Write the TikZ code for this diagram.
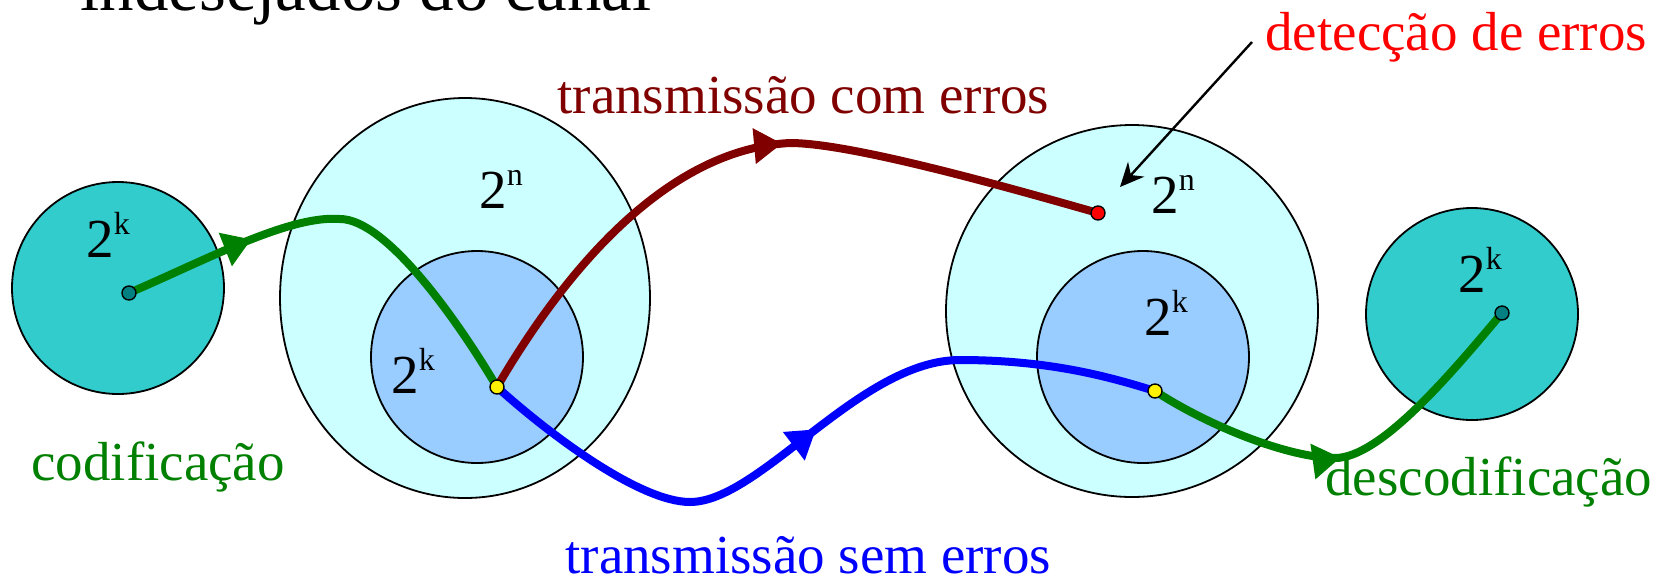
\documentclass[tikz,border=0pt]{standalone}
\usepackage{fontspec}
\setmainfont{Liberation Serif}
\usetikzlibrary{shapes.geometric,arrows.meta,decorations.markings}
\pgfdeclarelayer{front}
\pgfsetlayers{main,front}
\definecolor{tealA}{HTML}{33CCCC}
\definecolor{cyanA}{HTML}{CCFFFF}
\definecolor{blueA}{HTML}{99CCFF}
\definecolor{redD}{HTML}{800000}
\definecolor{greenD}{HTML}{008000}
\definecolor{dotTeal}{HTML}{008080}
\newcommand\twopow[1]{2\raisebox{11.5pt}{\fontsize{16}{16}\selectfont #1}}
\begin{document}
\begin{tikzpicture}[x=0.5pt,y=-0.5pt,
  region/.style={ellipse, draw=black, line width=0.9pt, inner sep=0pt},
  lbl/.style={anchor=base west, inner sep=0pt, font=\fontsize{27.5}{30}\selectfont},
  dotpt/.style={circle, draw=black, line width=0.7pt, inner sep=0pt, minimum size=7pt},
  flow/.style={line width=4pt},
  midarrow/.style={postaction={decorate}, decoration={markings, mark=at position #1 with {\arrow{Triangle[length=14pt,width=17pt]}}}},
]
\useasboundingbox (0,0) rectangle (1666,580);

% regions
\node[region, fill=tealA, minimum width=106pt, minimum height=106pt] (encL) at (118,288) {};
\node[region, fill=cyanA, minimum width=185pt, minimum height=200pt] (spaceL) at (465,298) {};
\node[region, fill=blueA, minimum width=106pt, minimum height=106pt] (codeL) at (477,357) {};
\node[region, fill=cyanA, minimum width=186pt, minimum height=186pt] (spaceR) at (1132,311) {};
\node[region, fill=blueA, minimum width=106pt, minimum height=106pt] (codeR) at (1143,357) {};
\node[region, fill=tealA, minimum width=106pt, minimum height=106pt] (encR) at (1472,314) {};

% powers
\node[lbl] (kL) at (86,257) {\twopow{k}};
\node[lbl] (nL) at (479,208) {\twopow{n}};
\node[lbl] (kLi) at (391,393) {\twopow{k}};
\node[lbl] (nR) at (1151,213) {\twopow{n}};
\node[lbl] (kRi) at (1144,335) {\twopow{k}};
\node[lbl] (kR) at (1458,292) {\twopow{k}};

% texts
\node[lbl, text=black, font=\fontsize{34.5}{36}\selectfont] (title) at (80,10) {indesejados do canal};
\node[lbl, text=redD] (tce) at (557,113) {transmissão com erros};
\node[lbl, text=red] (det) at (1265,50) {detecção de erros};
\node[lbl, text=greenD] (cod) at (31,480) {codificação};
\node[lbl, text=greenD] (dec) at (1325,495) {descodificação};
\node[lbl, text=blue] (tse) at (565,573) {transmissão sem erros};

% dots
\begin{pgfonlayer}{front}
\node[dotpt, fill=dotTeal] (dL) at (129,293) {};
\node[dotpt, fill=yellow] (yL) at (497,387) {};
\node[dotpt, fill=red] (rD) at (1098,213) {};
\node[dotpt, fill=yellow] (yR) at (1155,391) {};
\node[dotpt, fill=dotTeal] (dR) at (1502,313) {};
\end{pgfonlayer}

% flows
\draw[flow, greenD, midarrow=0.29] (dL.center) .. controls (210,258) and (290,215) .. (340,219) .. controls (385,219) and (455,316) .. (yL.center);
\draw[flow, redD, midarrow=0.545] (yL.center) .. controls (545,305) and (650,150) .. (790,143) .. controls (850,143) and (1000,185) .. (rD.center);
\draw[flow, blue, midarrow=0.51] (yL.center) .. controls (550,435) and (640,502) .. (690,502) .. controls (760,502) and (860,360) .. (960,360) .. controls (1050,360) and (1110,377) .. (yR.center);
\draw[flow, greenD, midarrow=0.476] (yR.center) .. controls (1210,427) and (1290,458) .. (1335,458) .. controls (1380,458) and (1450,375) .. (dR.center);

% detection pointer
\coordinate (detFrom) at (1252,42);
\coordinate (detTo) at (1120,187);
\draw[line width=1.2pt, -{Stealth[length=12pt,width=11pt]}] (detFrom) -- (detTo);
\end{tikzpicture}
\end{document}
